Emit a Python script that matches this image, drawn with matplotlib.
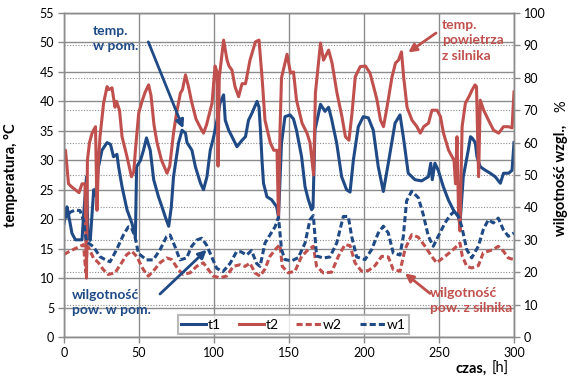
"""
Temperatura i wilgotnosc powietrza w pomieszczeniu i z silnika - przebieg w czasie
"""

import matplotlib
matplotlib.use("Agg")
import matplotlib.pyplot as plt
import numpy as np

plt.rcParams["font.family"] = ["Lato", "DejaVu Sans"]

BLUE = "#1F4A86"
RED = "#C0504D"
GRID = "#8C8C8C"

# ----------------------------------------------------------
# Data
# ----------------------------------------------------------

# t1 - temperatura w pomieszczeniu, [C]
t1_time = [0, 1, 2, 3, 5.3, 7.6, 10, 12, 13, 15, 16, 17.5, 19.8, 21, 23, 25.3, 28.7, 31,
           33, 35.3, 36.4, 38.7, 42, 45.3, 47.6, 48.4, 51, 53, 55, 57.5, 59.8, 63, 65.3,
           67.5, 69.8, 71.5, 73, 76.4, 78.7, 81, 82, 85.3, 87.6, 91, 93, 95.3, 97.5, 99.8,
           102, 104, 106.4, 107.5, 109.8, 112, 115.3, 118.7, 121, 123, 125.3, 128.7, 130,
           131, 132, 133, 135.3, 138.4, 141.8, 143, 145, 147.3, 150.7, 153, 155, 158.4,
           160.7, 162.9, 165.1, 166, 167.3, 169.5, 171, 174, 176.4, 178.4, 181.8, 185.1,
           188.4, 190.7, 192.9, 196.2, 199.5, 202.9, 206.2, 209.5, 212.9, 216.2, 220.7,
           224, 226.2, 229.5, 234, 238.4, 242.9, 244.5, 245.5, 247.3, 249.5, 252.9, 256.2,
           259.5, 262.9, 264, 266.2, 269.5, 271, 272, 274.2, 275.3, 277.5, 280.9, 284.2,
           287.5, 290.9, 293, 296.4, 298.7, 300]
t1_temp = [19.3, 21, 22.1, 20.8, 17.6, 16.5, 16.5, 16.5, 20.4, 27.2, 17, 16.4, 25, 24,
           28.9, 31.7, 33, 32.7, 30.6, 31, 28.9, 25.5, 21.6, 19.3, 17, 28.9, 30, 31.7, 33.8,
           31.7, 26.7, 23.8, 22.1, 20.4, 18.8, 22, 27.2, 33, 35.1, 34.6, 33, 31.7, 28.9,
           26.1, 25, 27.2, 31.7, 34, 36.8, 39.7, 41.1, 36.8, 35.1, 34, 32.3, 33.4, 34,
           36.8, 38, 40, 39, 35, 30, 26.1, 23.8, 23.3, 22.1, 20.4, 32.9, 37.4, 37.7, 37,
           35.1, 30.6, 25.5, 23.3, 21.6, 22, 35.1, 37.7, 39.5, 38.3, 39, 37, 32.9, 27.2,
           25, 24.6, 30, 35.7, 37.4, 37.2, 35.1, 28.9, 24.7, 29.5, 36.3, 37.7, 34, 27.8,
           26.7, 26.5, 27.2, 29.5, 26.7, 29.5, 28.3, 25.5, 23.3, 21.6, 20.4, 19.3, 27.2,
           31.7, 34, 33.8, 33, 30.6, 28.9, 28.3, 27.8, 27.2, 26.1, 27.8, 27.8, 28.3, 33]

# t2 - temperatura powietrza z silnika, [C]
t2_time = [0, 1, 3, 5, 7.6, 10, 12, 14, 15, 15.6, 17, 18.7, 21, 22, 23, 24, 26.4, 28.7,
           30, 32, 34, 35, 37, 38.7, 42, 45, 46.5, 47.6, 49.8, 52, 54, 56.4, 58, 60, 62,
           65, 68.7, 70.5, 73, 75, 77.6, 79, 81, 83, 85, 88, 91, 93, 95, 97, 98.7, 100.7,
           102, 102.7, 103.5, 106.4, 108.7, 110, 112, 114, 116.4, 118.7, 121, 124, 127.6,
           130, 132, 134, 137.5, 139.8, 142, 143, 144, 145, 148.7, 151, 153, 155, 158.7,
           162, 164, 166.4, 167.6, 169.8, 171, 173, 176.4, 178.7, 182, 185.3, 187.6, 190,
           192, 194.2, 197.5, 201, 204, 206.4, 208.7, 211, 213, 215, 218.7, 221, 223, 225,
           226.4, 228.7, 232, 235.3, 237.5, 239.8, 243, 245.3, 248.7, 251, 253, 256.4, 260,
           261, 262, 263, 264, 265.4, 267.6, 270, 272, 274, 275, 276.4, 277.5, 279.8, 283,
           286.4, 289.8, 293, 296.4, 298.7, 300]
t2_temp = [31.5, 31.7, 26, 25.5, 25, 24.5, 26, 26, 10, 30, 33, 34.6, 35.7, 21.5, 30, 34,
           39.7, 42.5, 42, 42.3, 39, 40, 38.5, 34, 30.6, 27.2, 28, 31.7, 38, 40, 41.5, 42.8,
           41, 36, 33, 30, 27.8, 29, 34.6, 38, 41.4, 42, 44.5, 42.5, 40, 37, 35.5, 34.6, 36,
           38, 39.7, 46, 45, 29, 44, 50.4, 47, 46, 45.3, 42.5, 40.8, 43, 43, 47, 50.1, 50.4,
           44.2, 36.8, 33, 31.7, 31.7, 20, 35, 44, 48, 44.8, 45, 40.2, 36.3, 34.6, 33, 27.5,
           41.4, 47, 49.9, 47, 48.7, 46.5, 41.4, 37.4, 34, 33.4, 38, 44.2, 45.9, 46, 44.8,
           42.5, 40.2, 36.8, 35.7, 38.5, 44.2, 46.5, 47, 48.4, 44.2, 39, 36.8, 35.7, 34.6,
           35.7, 36.3, 38.5, 38.5, 37.4, 34.6, 31.7, 30, 26, 34, 21.5, 18, 35.7, 39.7, 40.8,
           41.9, 42.8, 42.5, 27.2, 40.2, 38.5, 36.8, 35.1, 34.6, 35.7, 35.7, 35.5, 41.6]

# w2 - wilgotnosc powietrza z silnika, [%]
w2_time = [0, 4, 8.4, 13, 14.5, 15.5, 16.4, 19.6, 23, 26.2, 29.5, 34, 38.4, 41.8, 45.1,
           48.4, 52.9, 56.2, 59.5, 64, 68.4, 71.8, 76.2, 79.5, 84, 88.4, 92.9, 96.2, 99.5,
           104, 108.4, 112.9, 117.3, 120.7, 124, 127.3, 130.7, 134, 137.3, 141.8, 144,
           145.5, 149.5, 154, 158.4, 162.9, 166.2, 168.4, 172.9, 178.4, 182.9, 187.3,
           190.7, 194, 198.4, 202.9, 207.3, 211.8, 216.2, 219.5, 224, 227.3, 231.8, 236.2,
           240.7, 245.1, 248.4, 254, 258.4, 264, 265.5, 268.5, 271.8, 276.2, 279.5, 282.9,
           286.2, 289.5, 292.9, 296.2, 300]
w2_hum = [25.5, 26.5, 27.5, 28.5, 20, 28, 27.6, 24.4, 22.9, 20.8, 19.3, 19.8, 22.9, 25.4,
          26.5, 24.9, 20.8, 18.8, 20.3, 22.9, 24.4, 23.9, 20.8, 19.3, 19.8, 21.8, 22.9,
          20.8, 18.8, 18.3, 18.8, 21.8, 22.3, 21.8, 22.8, 19.8, 18.8, 21, 24.9, 27.5, 28.5,
          21.8, 19.8, 20.3, 24.9, 27, 28, 21.8, 19.8, 20, 24.9, 28.5, 28.2, 22.9, 20.3,
          20.5, 22, 24.9, 24.7, 20.8, 20.3, 27, 31.6, 30.8, 28, 24.9, 22.9, 24.9, 26.5, 29,
          25, 21.8, 21.3, 22, 26, 26.5, 27, 28, 26.5, 24.4, 23.9]

# w1 - wilgotnosc powietrza w pomieszczeniu, [%]
w1_time = [0, 2, 4, 7.6, 10.7, 13, 15, 19.6, 24, 27, 30.7, 35, 39.6, 42.9, 45, 47.3, 49.6,
           55, 59.5, 64, 68.4, 70.7, 74, 77.3, 81.8, 85, 88.4, 91.8, 95, 98.4, 101.8, 106,
           110.7, 115, 118, 121.8, 125, 128.4, 130.7, 134, 137.3, 140.7, 143, 145, 147.3,
           151.8, 156.2, 160.7, 164, 166.2, 168.4, 172.9, 177.3, 181.8, 186.2, 189.5, 191.8,
           195.1, 200.7, 205.1, 209.5, 212.9, 216.2, 219.5, 224, 226.2, 228.4, 231.8, 236.2,
           239.5, 242.9, 246.2, 249.5, 254, 257.3, 260.7, 263, 265.1, 268.5, 271.8, 276.2,
           279.5, 282.9, 286.2, 289.5, 292.9, 296.2, 300]
w1_hum = [38.3, 37, 38.5, 39.2, 39, 36, 29.4, 27.9, 24.8, 24, 23.2, 26.9, 31.5, 34, 33.7,
          31, 25.8, 23.8, 23.8, 26.9, 31, 31.5, 27.9, 23.8, 24.4, 27.9, 29.9, 30.5, 28.4,
          24.8, 21.2, 20.2, 22.7, 26.3, 26.3, 25.3, 26.7, 22.7, 21.8, 29, 31.5, 34, 37, 27,
          23.9, 23.5, 24.5, 29, 36.2, 37.5, 25, 24.4, 24.7, 29, 37.2, 37.2, 31, 24.7, 23.9,
          27, 32.1, 34.2, 32.1, 25.9, 25.3, 31, 42, 45, 43, 37.8, 31.1, 28, 31.1, 35.2,
          37.5, 39, 37.2, 34.2, 27, 24.4, 28, 33.1, 36.2, 35.2, 36.7, 33.1, 31.1, 32.1]

X_TICKS = [0, 50, 100, 150, 200, 250, 300]
TEMP_TICKS = [0, 5, 10, 15, 20, 25, 30, 35, 40, 45, 50, 55]
HUM_TICKS = [0, 10, 20, 30, 40, 50, 60, 70, 80, 90, 100]


def style_axis(axis):
    """
    Excel-like gray frame and outside ticks.
    """
    for spine in axis.spines.values():
        spine.set_color(GRID)
        spine.set_linewidth(1.0)
    axis.tick_params(which="major", direction="out", length=4, width=1,
                     color=GRID, labelsize=9, pad=3)


def plot_chart():
    """
    Temperature (left axis) and relative humidity (right axis) vs time.
    """

    fig = plt.figure(figsize=(5.74, 3.78), dpi=100)
    ax = fig.add_axes([64 / 574, 1 - 337 / 378, 450 / 574, 324 / 378])
    ax2 = ax.twinx()

    # ----------------------------------------------------------
    # Series
    # ----------------------------------------------------------

    ax.plot(t1_time, t1_temp, color=BLUE, lw=2.2, label="t1", solid_joinstyle="round")
    ax.plot(t2_time, t2_temp, color=RED, lw=2.2, label="t2", solid_joinstyle="round")

    ax2.plot(w2_time, w2_hum, color=RED, lw=2.2, ls=(0, (2, 1)), label="w2")
    ax2.plot(w1_time, w1_hum, color=BLUE, lw=2.2, ls=(0, (2, 1)), label="w1")

    # ----------------------------------------------------------
    # Axes, ticks, grid
    # ----------------------------------------------------------

    ax.set_xlim(0, 300)
    ax.set_ylim(0, 55)
    ax2.set_ylim(0, 100)

    ax.set_xticks(X_TICKS)
    ax.set_yticks(TEMP_TICKS)
    ax2.set_yticks(HUM_TICKS)

    # dotted grid of the right axis, kept under the lines
    ax.set_yticks(np.array(HUM_TICKS[1:-1]) * 55 / 100, minor=True)
    ax.tick_params(which="minor", length=0)

    ax.grid(which="major", color=GRID, lw=1.0)
    ax.grid(which="minor", axis="y", color=GRID, lw=0.8, ls=(0, (1, 1.5)))
    ax.set_axisbelow(True)

    style_axis(ax)
    style_axis(ax2)

    ax.set_ylabel("temperatura, °C", fontsize=10.5, fontweight="bold")
    ax.yaxis.set_label_coords(-0.102, 0.5)

    fig.text(561 / 574, 1 - 180 / 378, "wilgotność wzgl.,", rotation=90,
             fontsize=10.5, fontweight="bold", ha="center", va="center")
    fig.text(561 / 574, 1 - 106 / 378, "%", rotation=90,
             fontsize=10.5, ha="center", va="center")

    fig.text(487 / 574, 1 - 369 / 378, "czas,", fontsize=10.5, fontweight="bold",
             ha="right", va="center")
    fig.text(509 / 574, 1 - 369 / 378, "[h]", fontsize=10.5, ha="right", va="center")

    # ----------------------------------------------------------
    # Legend
    # ----------------------------------------------------------

    h1, l1 = ax.get_legend_handles_labels()
    h2, l2 = ax2.get_legend_handles_labels()

    leg = ax2.legend(h1 + h2, l1 + l2, ncol=4, loc="lower left",
                     bbox_to_anchor=(0.253, 0.009), fontsize=10,
                     frameon=True, fancybox=False, edgecolor="#A6A6A6",
                     handlelength=1.8, handletextpad=0.1, columnspacing=1.3,
                     borderpad=0.25, borderaxespad=0)
    leg.get_frame().set_linewidth(1.5)

    # ----------------------------------------------------------
    # Annotations
    # ----------------------------------------------------------

    notes = [
        ("temp.\nw pom.", BLUE, (19.3, 53.0), (79.5, 35.4), (56.2, 50.1)),
        ("temp.\npowietrza\nz silnika", RED, (251.8, 54.0), (229.5, 48.3), (248.0, 51.6)),
        ("wilgotność\npow. w pom.", BLUE, (5.1, 8.2), (95.1, 14.8), (64.0, 7.3)),
        ("wilgotność\npow. z silnika", RED, (244.0, 8.5), (227.3, 10.8), (244.0, 7.4)),
    ]

    for text, color, text_xy, head_xy, tail_xy in notes:
        ax2.text(*text_xy, text, transform=ax.transData, color=color,
                 fontsize=10, fontweight="bold", ha="left", va="top",
                 linespacing=1.35)
        ax2.annotate("", xy=head_xy, xytext=tail_xy,
                     xycoords=ax.transData, textcoords=ax.transData,
                     arrowprops=dict(arrowstyle="-|>", color=color, lw=2,
                                     mutation_scale=12, shrinkA=0, shrinkB=0))

    fig.savefig("out.png", dpi=100)


plot_chart()
